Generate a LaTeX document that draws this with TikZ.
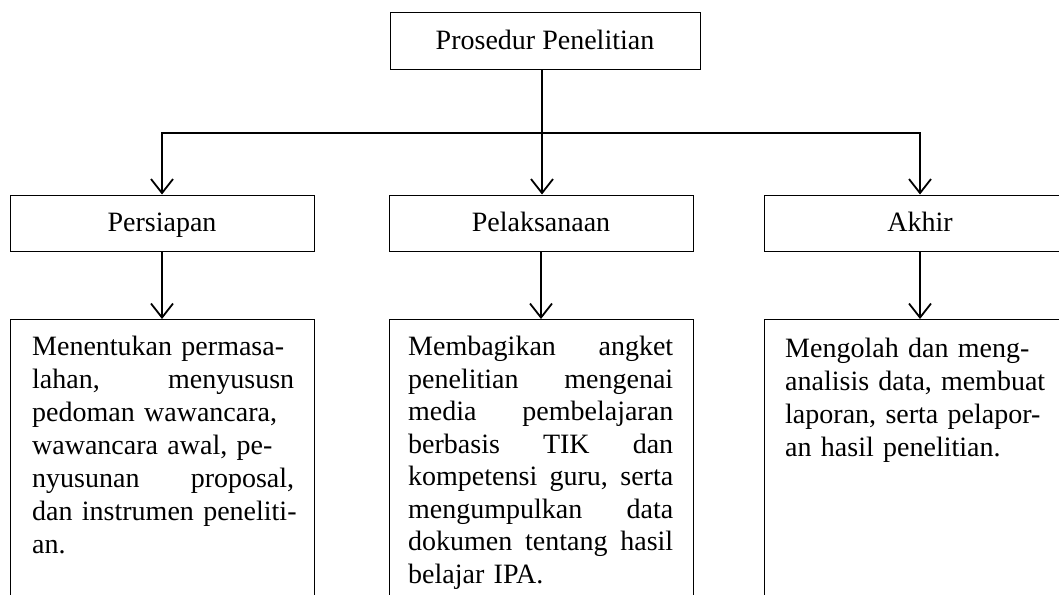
\documentclass[tikz,border=0pt]{standalone}
\usepackage{fontspec}
\setmainfont{Liberation Serif}
\usetikzlibrary{arrows.meta}
\newcommand{\JustLine}[2]{\leavevmode\hbox to #1{#2}}
\begin{document}
\begin{tikzpicture}[x=1pt,y=-1pt,
  box/.style={draw, line width=1pt, rectangle, inner sep=0pt, text height=19pt, text depth=3pt, font=\fontsize{28}{33}\selectfont},
  conn/.style={line width=1.8pt},
  arr/.style={conn, -{Straight Barb[length=14pt,width=22pt,line width=1.8pt]}},
  body/.style={anchor=north west, inner sep=0pt, align=left}]
\useasboundingbox (0,0) rectangle (1059,594);
\clip (0,0) rectangle (1059,594);
% top
\node[box, minimum width=310pt, minimum height=56pt] (top) at (545,41) {Prosedur Penelitian};
% level 2
\node[box, minimum width=304pt, minimum height=56pt] (b1) at (162,223) {Persiapan};
\node[box, minimum width=304pt, minimum height=56pt] (b2) at (541,223) {Pelaksanaan};
\node[box, minimum width=312pt, minimum height=56pt] (b3) at (920,223) {Akhir};
% level 3 boxes (cut by the page edge)
\node[box, anchor=north, minimum width=304pt, minimum height=380pt] (d1) at (162,319) {};
\node[box, anchor=north, minimum width=304pt, minimum height=380pt] (d2) at (541,319) {};
\node[box, anchor=north, minimum width=312pt, minimum height=380pt] (d3) at (920,319) {};
% connectors
\coordinate (j) at (542,133);
\coordinate (jl) at (162,133);
\coordinate (jr) at (920,133);
\draw[conn] (top.south -| j) -- (j);
\draw[arr] (j) -- (jl) -- (b1.north);
\draw[arr] (j) -- (jr) -- (b3.north);
\draw[arr] (j) -- (b2.north -| j);
\draw[arr] (b1.south) -- (d1.north);
\draw[arr] (b2.south) -- (d2.north);
\draw[arr] (b3.south) -- (d3.north);
% texts
\node[body, text width=262pt, font=\fontsize{28}{33}\selectfont] (t1) at (32,336) {%
\mbox{Menentukan permasa-}\\
\JustLine{262pt}{lahan,\hfill menyususn}\\
\mbox{pedoman wawancara,}\\
\mbox{wawancara awal, pe-}\\
\JustLine{262pt}{nyusunan\hfill proposal,}\\
\mbox{dan instrumen peneliti-}\\
an.};
\node[body, text width=265pt, font=\fontsize{28}{32.5}\selectfont] (t2) at (408,336) {%
\JustLine{265pt}{Membagikan\hfill angket}\\
\JustLine{265pt}{penelitian\hfill mengenai}\\
\JustLine{265pt}{media\hfill pembelajaran}\\
\JustLine{265pt}{berbasis\hfill TIK\hfill dan}\\
\JustLine{265pt}{kompetensi\hfill guru,\hfill serta}\\
\JustLine{265pt}{mengumpulkan\hfill data}\\
\JustLine{265pt}{dokumen\hfill tentang\hfill hasil}\\
belajar IPA.};
\node[body, text width=260pt, font=\fontsize{28}{33}\selectfont] (t3) at (785,338) {%
\mbox{Mengolah dan meng-}\\
\JustLine{260pt}{analisis\hfill data,\hfill membuat}\\
\mbox{laporan, serta pelapor-}\\
\mbox{an hasil penelitian.}};
\end{tikzpicture}
\end{document}
